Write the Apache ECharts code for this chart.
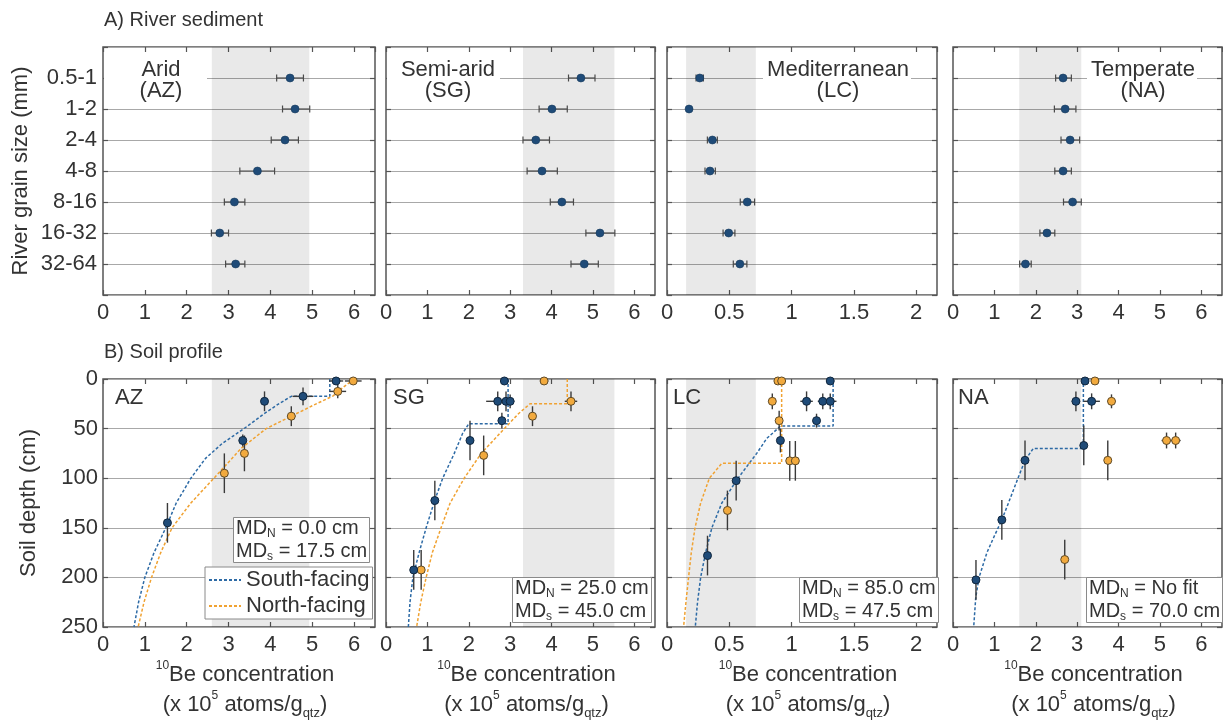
<!DOCTYPE html>
<html><head><meta charset="utf-8">
<script src="https://cdn.jsdelivr.net/npm/echarts@6/dist/echarts.min.js"></script>
<style>html,body{margin:0;padding:0;background:#fff}#c{width:1223px;height:720px}</style>
</head><body><div id="c"></div>
<script>
// ---------------- DATA ----------------
const grainSizes = ['0.5-1','1-2','2-4','4-8','8-16','16-32','32-64'];
const siteCodes = ['AZ','SG','LC','NA'];
const climateNames = ['Arid','Semi-arid','Mediterranean','Temperate'];

// River sediment: value, lower, upper (x 10^5 atoms/g_qtz), per grain size
const riverAZ = [4.47, 4.59, 4.35, 3.69, 3.14, 2.79, 3.17];
const riverAZLow = [4.15, 4.29, 4.02, 3.27, 2.90, 2.59, 2.93];
const riverAZHigh = [4.79, 4.94, 4.67, 4.10, 3.39, 3.00, 3.39];
const riverSG = [4.71, 4.01, 3.62, 3.77, 4.25, 5.17, 4.79];
const riverSGLow = [4.41, 3.70, 3.31, 3.41, 3.97, 4.83, 4.47];
const riverSGHigh = [5.05, 4.38, 3.95, 4.14, 4.53, 5.53, 5.13];
const riverLC = [0.263, 0.177, 0.364, 0.345, 0.644, 0.495, 0.585];
const riverLCLow = [0.233, 0.177, 0.324, 0.305, 0.588, 0.450, 0.532];
const riverLCHigh = [0.292, 0.177, 0.404, 0.388, 0.703, 0.545, 0.641];
const riverNA = [2.66, 2.71, 2.83, 2.66, 2.89, 2.27, 1.75];
const riverNALow = [2.48, 2.45, 2.61, 2.46, 2.67, 2.10, 1.61];
const riverNAHigh = [2.86, 2.97, 3.06, 2.86, 3.10, 2.46, 1.89];

// shaded bands (x range)
const bandAZ = [2.60, 4.93];
const bandSG = [3.31, 5.52];
const bandLC = [0.153, 0.713];
const bandNA = [1.60, 3.10];

// Soil profile points: [concentration, depth cm, conc. error, depth error]
const soilAZSouth = [[5.57,2,0.17,0],[4.78,17.5,0.25,9],[3.86,22.5,0.05,10],[3.34,62,0.05,6],[1.54,145,0.05,20]];
const soilAZNorth = [[5.98,2,0.2,0],[5.61,12.5,0.2,7],[4.50,37.5,0.1,10],[3.38,75,0.08,18],[2.90,95,0.08,20]];
const soilSGSouth = [[2.86,2,0.05,0],[2.70,22.5,0.28,10],[2.90,22.5,0.1,10],[3.00,22.5,0.1,7],[2.80,42,0.05,8],[2.03,62,0.05,20],[1.18,122.5,0.05,20],[0.67,192.5,0.05,20]];
const soilSGNorth = [[3.82,2,0.1,0],[4.47,22.5,0.15,10],[3.54,37.5,0.05,10],[2.36,77,0.05,20],[0.85,192.5,0.05,20]];
const soilLCSouth = [[1.31,2,0.03,0],[1.12,22.5,0.05,10],[1.25,22.5,0.04,8],[1.31,22.5,0.05,8],[1.20,42,0.03,7],[0.91,62,0.02,12],[0.555,102.5,0.02,20],[0.325,178,0.02,20]];
const soilLCNorth = [[0.89,2,0.02,0],[0.92,2,0.02,0],[0.845,22.5,0.03,8],[0.90,42,0.02,10],[0.985,82.5,0.02,20],[1.03,82.5,0.02,20],[0.485,132.5,0.02,20]];
const soilNASouth = [[3.19,2,0.05,0],[2.97,22.5,0.1,10],[3.35,22.5,0.2,8],[3.16,67,0.03,20],[1.74,82,0.03,20],[1.18,142,0.03,20],[0.555,202.5,0.03,20]];
const soilNANorth = [[3.43,2,0.1,0],[3.83,22.5,0.1,7],[5.16,62,0.12,8],[5.38,62,0.12,8],[3.74,82,0.03,20],[2.70,182,0.03,20]];

// Fitted profiles: [concentration, depth]
const fitAZSouth = [[5.42,0],[5.42,17.5],[4.5,17.5],[4.2,25],[3.85,35],[3.37,50],[2.85,65],[2.45,80],[2.1,100],[1.75,125],[1.5,150],[1.22,175],[1.0,200],[0.85,225],[0.74,250]];
const fitAZNorth = [[6.0,0],[5.75,8],[5.5,17],[5.0,27],[4.5,37.5],[3.9,50],[3.3,70],[2.65,100],[2.1,125],[1.65,150],[1.38,175],[1.16,200],[0.98,225],[0.84,250]];
const fitSGSouth = [[2.95,0],[2.95,45],[2.0,45],[1.85,55],[1.65,75],[1.37,100],[1.18,122],[0.97,150],[0.8,175],[0.65,200],[0.58,225],[0.54,250]];
const fitSGNorth = [[4.38,0],[4.38,25],[3.48,25],[3.2,35],[2.86,50],[2.3,75],[1.89,100],[1.55,125],[1.33,150],[1.12,175],[0.97,200],[0.84,225],[0.74,250]];
const fitLCSouth = [[1.333,0],[1.333,47.5],[0.91,47.5],[0.8,60],[0.72,75],[0.57,100],[0.44,125],[0.36,150],[0.31,175],[0.27,200],[0.245,225],[0.227,250]];
const fitLCNorth = [[0.92,0],[0.92,85],[0.44,85],[0.34,100],[0.27,125],[0.225,150],[0.195,175],[0.173,200],[0.152,225],[0.133,250]];
const fitNASouth = [[3.15,0],[3.15,70],[1.94,70],[1.74,82],[1.57,100],[1.34,125],[1.18,142],[0.98,160],[0.82,175],[0.63,200],[0.55,220],[0.5,250]];
const fitNANorth = [];

const mdNorth = ['0.0 cm','25.0 cm','85.0 cm','No fit'];
const mdSouth = ['17.5 cm','45.0 cm','47.5 cm','70.0 cm'];

const xMaxes = [6.5, 6.5, 6.5/3, 6.5];
const xIntervals = [1, 1, 0.5, 1];
const depthTicks = [0, 250, 50];

// ---------------- LAYOUT / STYLE ----------------
const FONT = "'Liberation Sans', Arial, sans-serif";
const TXT = '#333';
const panelLeft = [103, 386, 667, 953];
const panelWidth = [272, 269, 270, 269];
const topY = 47, topH = 248, botY = 379, botH = 248;
const BLUE = '#1f4b78', BLUE_LINE = '#2d6aa5', ORANGE = '#f2aa3e', ORANGE_LINE = '#f0a232';

const river = [
  [riverAZ, riverAZLow, riverAZHigh, bandAZ],
  [riverSG, riverSGLow, riverSGHigh, bandSG],
  [riverLC, riverLCLow, riverLCHigh, bandLC],
  [riverNA, riverNALow, riverNAHigh, bandNA]
];
const soil = [
  [soilAZSouth, soilAZNorth, fitAZSouth, fitAZNorth, bandAZ],
  [soilSGSouth, soilSGNorth, fitSGSouth, fitSGNorth, bandSG],
  [soilLCSouth, soilLCNorth, fitLCSouth, fitLCNorth, bandLC],
  [soilNASouth, soilNANorth, fitNASouth, fitNANorth, bandNA]
];

const grids = [], xAxes = [], yAxes = [], series = [];
const mkTick = () => ({show: true, inside: true, length: 5, lineStyle: {color: '#555', width: 1.2}});
const mkLine = () => ({show: false, onZero: false});
const gridLine = () => ({show: true, lineStyle: {color: '#a8a8a8', width: 1}});

for (let g = 0; g < 8; g++) {
  const i = g % 4;
  grids.push({left: panelLeft[i], top: g < 4 ? topY : botY, width: panelWidth[i], height: g < 4 ? topH : botH, show: true,
    borderColor: '#555', borderWidth: 1.5, backgroundColor: '#fff', outerBoundsMode: 'none', containLabel: false});
}

const xName = '{sup|10}{n|Be concentration}\n{n|(x 10}{sup|5}{n| atoms/g}{sub|qtz}{n|)}';
const nameRich = {
  n: {fontSize: 22, color: TXT, fontFamily: FONT, lineHeight: 30},
  sup: {fontSize: 12, color: TXT, fontFamily: FONT, lineHeight: 23, verticalAlign: 'top'},
  sub: {fontSize: 13, color: TXT, fontFamily: FONT, lineHeight: 16, verticalAlign: 'bottom'}
};

// main axes 0..7
for (let g = 0; g < 8; g++) {
  const i = g % 4, isTop = g < 4;
  xAxes.push({
    gridIndex: g, type: 'value', position: 'bottom', min: 0, max: xMaxes[i], interval: xIntervals[i],
    axisLine: mkLine(), axisTick: mkTick(), splitLine: {show: false},
    axisLabel: {show: true, fontSize: 22, color: TXT, fontFamily: FONT, margin: 7, showMaxLabel: false, showMinLabel: true},
    name: isTop ? '' : xName, nameLocation: 'middle', nameGap: 33, nameMoveOverlap: false,
    nameTextStyle: {fontSize: 22, color: TXT, fontFamily: FONT, lineHeight: 30, padding: [0, 0, 0, 12], rich: nameRich}
  });
  if (isTop) {
    yAxes.push({
      gridIndex: g, type: 'value', position: 'left', min: 0, max: 8, interval: 1, inverse: true,
      axisLine: mkLine(), axisTick: mkTick(), splitLine: gridLine(),
      axisLabel: {show: i === 0, fontSize: 22, color: TXT, fontFamily: FONT, margin: 6,
        formatter: v => grainSizes[v - 1] || ''},
      name: i === 0 ? 'River grain size (mm)' : '', nameLocation: 'middle', nameGap: 71, nameMoveOverlap: false,
      nameTextStyle: {fontSize: 22, color: TXT, fontFamily: FONT}
    });
  } else {
    yAxes.push({
      gridIndex: g, type: 'value', position: 'left', min: depthTicks[0], max: depthTicks[1], interval: depthTicks[2], inverse: true,
      axisLine: mkLine(), axisTick: mkTick(), splitLine: gridLine(),
      axisLabel: {show: i === 0, fontSize: 22, color: TXT, fontFamily: FONT, margin: 5},
      name: i === 0 ? 'Soil depth (cm)' : '', nameLocation: 'middle', nameGap: 63, nameMoveOverlap: false,
      nameTextStyle: {fontSize: 22, color: TXT, fontFamily: FONT}
    });
  }
}
// mirror axes 8..15 (ticks only)
for (let g = 0; g < 8; g++) {
  const i = g % 4, isTop = g < 4;
  xAxes.push({gridIndex: g, type: 'value', position: 'top', min: 0, max: xMaxes[i], interval: xIntervals[i],
    axisLine: mkLine(), axisTick: mkTick(), axisLabel: {show: false}, splitLine: {show: false}});
  yAxes.push({gridIndex: g, type: 'value', position: 'right', inverse: true,
    min: isTop ? 0 : depthTicks[0], max: isTop ? 8 : depthTicks[1], interval: isTop ? 1 : depthTicks[2],
    axisLine: mkLine(), axisTick: mkTick(), axisLabel: {show: false}, splitLine: {show: false}});
}

function riverErr(params, api) {
  const y = api.value(1);
  const a = api.coord([api.value(2), y]), b = api.coord([api.value(3), y]);
  const st = {stroke: '#4a4a4a', lineWidth: 1.2};
  return {type: 'group', children: [
    {type: 'line', shape: {x1: a[0], y1: a[1], x2: b[0], y2: b[1]}, style: st},
    {type: 'line', shape: {x1: a[0], y1: a[1] - 3.5, x2: a[0], y2: a[1] + 3.5}, style: st},
    {type: 'line', shape: {x1: b[0], y1: b[1] - 3.5, x2: b[0], y2: b[1] + 3.5}, style: st}
  ]};
}
function soilErr(params, api) {
  const x = api.value(0), d = api.value(1), ex = api.value(2), ed = api.value(3);
  const st = {stroke: '#3a3a3a', lineWidth: 1.4};
  const ch = [];
  if (ex > 0) { const a = api.coord([x - ex, d]), b = api.coord([x + ex, d]);
    ch.push({type: 'line', shape: {x1: a[0], y1: a[1], x2: b[0], y2: b[1]}, style: st}); }
  if (ed > 0) { const a = api.coord([x, Math.max(0, d - ed)]), b = api.coord([x, d + ed]);
    ch.push({type: 'line', shape: {x1: a[0], y1: a[1], x2: b[0], y2: b[1]}, style: st}); }
  return {type: 'group', children: ch};
}
function band(b) {
  return {silent: true, itemStyle: {color: 'rgba(0,0,0,0.085)'}, data: [[{xAxis: b[0]}, {xAxis: b[1]}]]};
}

for (let i = 0; i < 4; i++) {
  const [vals, lo, hi, b] = river[i];
  series.push({type: 'custom', xAxisIndex: i, yAxisIndex: i, renderItem: riverErr, z: 3,
    encode: {x: 0, y: 1}, data: vals.map((v, k) => [v, k + 1, lo[k], hi[k]]), markArea: band(b)});
  series.push({type: 'scatter', xAxisIndex: i, yAxisIndex: i, z: 4, symbolSize: 8,
    itemStyle: {color: BLUE, borderColor: '#173a5c', borderWidth: 0.6, opacity: 1},
    data: vals.map((v, k) => [v, k + 1])});
}
for (let i = 0; i < 4; i++) {
  const g = 4 + i;
  const [south, north, fitS, fitN, b] = soil[i];
  series.push({type: 'custom', xAxisIndex: g, yAxisIndex: g, renderItem: () => ({type: 'group', children: []}),
    data: [], markArea: band(b)});
  if (fitS.length) series.push({type: 'line', name: 'South-facing', xAxisIndex: g, yAxisIndex: g, z: 2,
    symbol: 'none', data: fitS, lineStyle: {color: BLUE_LINE, width: 1.5, type: [3, 2]}, itemStyle: {color: BLUE_LINE}});
  if (fitN.length) series.push({type: 'line', name: 'North-facing', xAxisIndex: g, yAxisIndex: g, z: 2,
    symbol: 'none', data: fitN, lineStyle: {color: ORANGE_LINE, width: 1.5, type: [3, 2]}, itemStyle: {color: ORANGE_LINE}});
  series.push({type: 'custom', xAxisIndex: g, yAxisIndex: g, renderItem: soilErr, z: 3, encode: {x: 0, y: 1}, data: north});
  series.push({type: 'custom', xAxisIndex: g, yAxisIndex: g, renderItem: soilErr, z: 3, encode: {x: 0, y: 1}, data: south});
  series.push({type: 'scatter', xAxisIndex: g, yAxisIndex: g, z: 4, symbolSize: 8,
    itemStyle: {color: ORANGE, borderColor: '#5e4a28', borderWidth: 1, opacity: 1}, data: north.map(p => [p[0], p[1]])});
  series.push({type: 'scatter', xAxisIndex: g, yAxisIndex: g, z: 5, symbolSize: 8,
    itemStyle: {color: BLUE, borderColor: '#10263d', borderWidth: 1, opacity: 1}, data: south.map(p => [p[0], p[1]])});
}

// ---------------- TEXT ----------------
const mdRich = {
  m: {fontSize: 20, color: TXT, fontFamily: FONT, lineHeight: 23},
  s: {fontSize: 12, color: TXT, fontFamily: FONT, lineHeight: 3, verticalAlign: 'bottom'}
};
const mdPos = [[233, 517], [512, 577], [799, 577], [1086, 577]];
const titles = [
  {text: 'A) River sediment', left: 104, top: 10, padding: 0, textStyle: {fontSize: 20, fontWeight: 'normal', color: TXT, fontFamily: FONT}},
  {text: 'B) Soil profile', left: 104, top: 342, padding: 0, textStyle: {fontSize: 20, fontWeight: 'normal', color: TXT, fontFamily: FONT}}
];
const codeLeft = [115, 393, 673, 958];
for (let i = 0; i < 4; i++) {
  titles.push({text: siteCodes[i], left: codeLeft[i], top: 387, padding: 0,
    textStyle: {fontSize: 22, fontWeight: 'normal', color: TXT, fontFamily: FONT}});
  titles.push({text: '{m|MD}{s|N}{m| = ' + mdNorth[i] + '}\n{m|MD}{s|s}{m| = ' + mdSouth[i] + '}',
    left: mdPos[i][0], top: mdPos[i][1], padding: [0, 3, 0, 3], backgroundColor: '#fff',
    borderColor: '#8a8a8a', borderWidth: 1, z: 8,
    textStyle: {fontSize: 20, fontWeight: 'normal', color: TXT, fontFamily: FONT, lineHeight: 23, rich: mdRich}});
}

// river panel climate labels (white boxes hide gridlines behind)
const labelCenter = [161, 448, 838, 1143];
const labelBox = [[104, 207], [387, 500], [763, 911], [1087, 1197]];
const graphics = [];
for (let i = 0; i < 4; i++) {
  graphics.push({type: 'rect', z: 10, shape: {x: labelBox[i][0], y: 60, width: labelBox[i][1] - labelBox[i][0], height: 40},
    style: {fill: '#fff'}});
  graphics.push({type: 'text', z: 11, style: {text: climateNames[i], x: labelCenter[i], y: 70, textAlign: 'center',
    textVerticalAlign: 'middle', font: '22px ' + FONT, fill: TXT}});
  graphics.push({type: 'text', z: 11, style: {text: '(' + siteCodes[i] + ')', x: labelCenter[i], y: 91, textAlign: 'center',
    textVerticalAlign: 'middle', font: '22px ' + FONT, fill: TXT}});
}

const chart = echarts.init(document.getElementById('c'), null, {renderer: 'canvas'});
chart.setOption({
  backgroundColor: '#fff',
  animation: false,
  title: titles,
  grid: grids,
  xAxis: xAxes,
  yAxis: yAxes,
  series: series,
  graphic: graphics,
  legend: {
    data: ['South-facing', 'North-facing'], left: 205, top: 567, orient: 'vertical',
    itemWidth: 32, itemHeight: 12, itemGap: 4, padding: [2, 3, 2, 3],
    backgroundColor: '#fff', borderColor: '#8a8a8a', borderWidth: 1, z: 8, selectedMode: false,
    itemStyle: {opacity: 0},
    textStyle: {fontSize: 22, color: TXT, fontFamily: FONT}
  }
});
</script></body></html>
